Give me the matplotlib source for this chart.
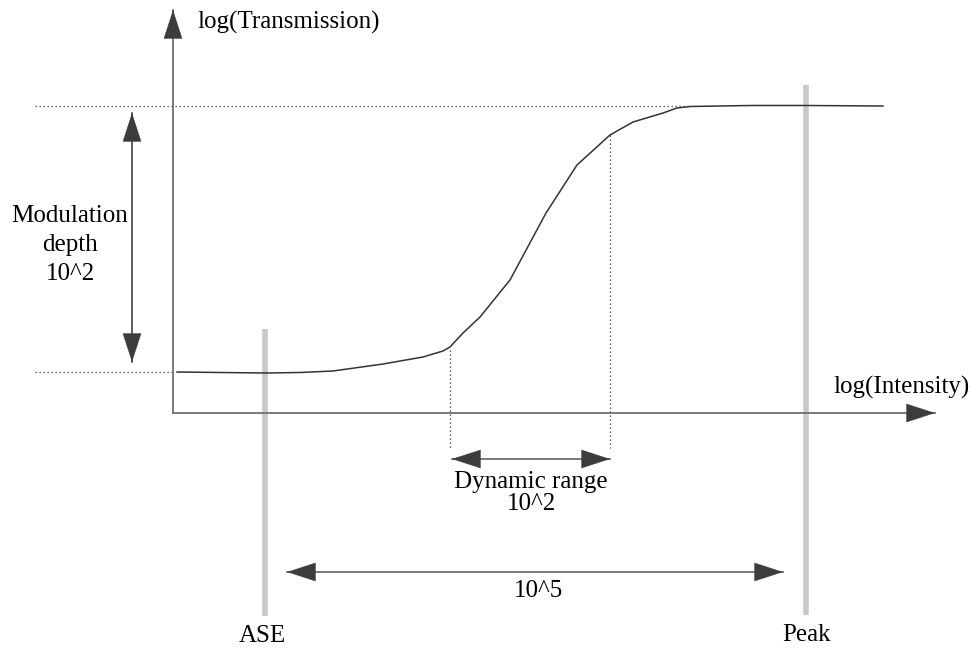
import matplotlib.pyplot as plt

plt.rcParams['font.family'] = ['Liberation Serif', 'DejaVu Serif']

# canvas is in pixel units of the original sketch (y grows downward)
W, H = 973, 648

# transmission curve (saturable absorber response)
curve_x = [177, 220, 267, 300, 333, 383, 423, 443, 450, 463, 480, 510, 546,
           577, 610, 633, 663, 677, 690, 750, 806, 883]
curve_y = [372, 372.5, 373, 372.5, 371, 364, 357, 351, 347, 333, 317, 280, 213,
           165, 135, 122, 113, 108, 106.5, 105.5, 105.5, 106]

# axes origin and arrow tips
origin = (173, 413)
y_tip = (173, 10)
x_tip = (935, 413)

# level lines
t_low, t_high = 372, 106
dr_left, dr_right = 450, 610
ase_x, peak_x = 265, 806

fig = plt.figure(figsize=(W / 100, H / 100), dpi=100)
ax = fig.add_axes([0, 0, 1, 1])
ax.set_xlim(0, W)
ax.set_ylim(H, 0)
ax.axis('off')

dark = '#3c3c3c'
gray = '#707070'


def line_arrow(p0, p1, color=gray, lw=1.3, both=False):
    # shaft in its own colour, heads filled dark
    x0, y0 = p0
    x1, y1 = p1
    ax.plot([x0, x1], [y0, y1], color=color, lw=lw, zorder=2)
    dx, dy = x1 - x0, y1 - y0
    n = (dx ** 2 + dy ** 2) ** 0.5
    ux, uy = dx / n, dy / n
    ends = [(p1, -1)] + ([(p0, 1)] if both else [])
    for (tx, ty), s in ends:
        ax.annotate('', xy=(tx, ty), xytext=(tx + s * ux * 26, ty + s * uy * 26),
                    arrowprops=dict(arrowstyle='-|>,head_length=2.0,head_width=0.65',
                                    mutation_scale=10, lw=0.3, fc=dark, ec=dark,
                                    shrinkA=0, shrinkB=0), zorder=3)


# gray markers
ax.plot([ase_x, ase_x], [329, 616], color='#c8c8c8', lw=4, solid_capstyle='butt', zorder=1)
ax.plot([peak_x, peak_x], [85, 615], color='#c8c8c8', lw=4, solid_capstyle='butt', zorder=1)

# dotted guides
dot = dict(color='#333333', lw=0.9, linestyle=(0, (1, 2.2)))
ax.plot([35, 690], [t_high, t_high], **dot)
ax.plot([35, 173], [t_low, t_low], **dot)
ax.plot([dr_left, dr_left], [350, 448], **dot)
ax.plot([dr_right, dr_right], [135, 448], **dot)

# axes
line_arrow(origin, y_tip)
line_arrow(origin, x_tip)

# curve
ax.plot(curve_x, curve_y, color='#333333', lw=1.1, zorder=3)

# dimension arrows
line_arrow((132, 362), (132, 113), color='#333333', lw=1.1, both=True)
line_arrow((dr_left + 2, 459), (dr_right, 459), both=True)
line_arrow((287, 572), (783, 572), both=True)

fs = 18
ax.text(197, 22, 'log(Transmission)', fontsize=fs, ha='left', va='center')
ax.text(833, 387, 'log(Intensity)', fontsize=fs, ha='left', va='center')
ax.text(70, 245, 'Modulation\ndepth\n10^2', fontsize=fs, ha='center', va='center',
        linespacing=1.4)
ax.text(531, 493, 'Dynamic range\n10^2', fontsize=fs, ha='center', va='center',
        linespacing=0.95)
ax.text(538, 591, '10^5', fontsize=fs, ha='center', va='center')
ax.text(262, 636, 'ASE', fontsize=fs, ha='center', va='center')
ax.text(806, 635, 'Peak', fontsize=fs, ha='center', va='center')

fig.savefig('out.png', dpi=100)
